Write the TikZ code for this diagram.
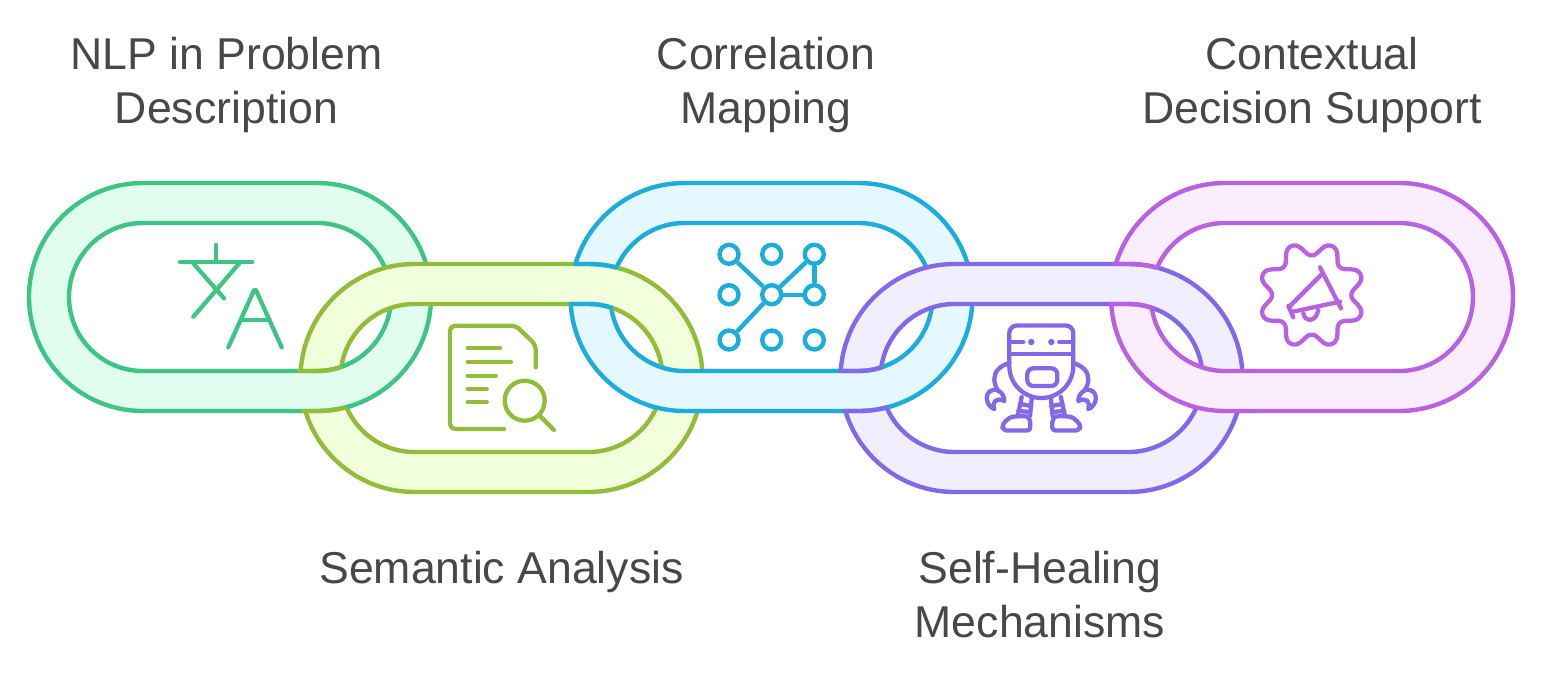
\documentclass[tikz,border=0pt]{standalone}
\usepackage{fontspec}
\setmainfont{Liberation Sans}
\definecolor{chainInk}{HTML}{484848}
\definecolor{chainGreen}{HTML}{3CC583}
\definecolor{chainGreenFill}{HTML}{E1FDF0}
\definecolor{chainOlive}{HTML}{92BD39}
\definecolor{chainOliveFill}{HTML}{F2FFDC}
\definecolor{chainBlue}{HTML}{1CADDC}
\definecolor{chainBlueFill}{HTML}{E5F8FF}
\definecolor{chainViolet}{HTML}{8567E9}
\definecolor{chainVioletFill}{HTML}{F1EFFE}
\definecolor{chainPink}{HTML}{BA61E3}
\definecolor{chainPinkFill}{HTML}{FAEEFE}
\tikzset{
  ringline/.style={line width=4.4pt, even odd rule},
  seamline/.style={line width=4.4pt, line cap=round},
  iconline/.style={line width=4.3pt, line cap=round, line join=round},
  netdot/.style={circle, draw=chainBlue, line width=4.4pt, minimum size=19pt, inner sep=0pt},
  chainlabel/.style={font=\fontsize{44.6}{54}\selectfont, text=chainInk, align=center}
}
% outer and inner outline of one link, centre #1,#2
\newcommand{\linkshape}[2]{
  ({#1-87},{#2-114}) -- ({#1+87},{#2-114}) arc[start angle=-90,end angle=90,radius=114]
  -- ({#1-87},{#2+114}) arc[start angle=90,end angle=270,radius=114] -- cycle
  ({#1-87},{#2-74}) -- ({#1+87},{#2-74}) arc[start angle=-90,end angle=90,radius=74]
  -- ({#1-87},{#2+74}) arc[start angle=90,end angle=270,radius=74] -- cycle
}
\begin{document}
\begin{tikzpicture}[x=1pt,y=1pt,yscale=-1]
  \useasboundingbox (0,0) rectangle (1544,675);

  % upper links first, lower links pass over them
  \foreach \cx/\cy/\col in {
    230/297/chainGreen,
    771.5/297/chainBlue,
    1312/297/chainPink,
    501.5/378/chainOlive,
    1041.5/378/chainViolet%
  }{
    \path[ringline, draw=\col, fill=\col Fill] \linkshape{\cx}{\cy};
  }

  % upper links back on top at the lower crossings
  \foreach \xa/\xb/\cx/\col in {
    288/356/230/chainGreen,
    646/714/771.5/chainBlue,
    830/897/771.5/chainBlue,
    1187/1254/1312/chainPink%
  }{
    \begin{scope}
      \clip (\xa,360) rectangle (\xb,420);
      \path[ringline, draw=\col, fill=\col Fill] \linkshape{\cx}{297};
    \end{scope}
  }

  % seams along the lower edge of an upper link
  \foreach \cx/\col in {230/chainOlive, 771.5/chainViolet}{
    \draw[seamline, \col] ({\cx+69.2},371) -- ({\cx+87},371) arc[start angle=90,end angle=72,radius=74];
    \draw[seamline, \col] ({\cx+73.9},411) -- ({\cx+87},411) arc[start angle=90,end angle=75.8,radius=114];
  }
  % seams along the upper edge of a lower link
  \foreach \cx/\col in {501.5/chainBlue, 1041.5/chainPink}{
    \draw[seamline, \col] ({\cx+69.2},304) -- ({\cx+87},304) arc[start angle=-90,end angle=-72,radius=74];
    \draw[seamline, \col] ({\cx+73.9},264) -- ({\cx+87},264) arc[start angle=-90,end angle=-75.8,radius=114];
  }

  % translate icon
  \begin{scope}[iconline, chainGreen]
    \draw (216.3,245) -- (216.3,262);
    \draw (180,262) -- (252.3,262);
    \draw (193.3,263.3) -- (224,298.3);
    \draw (239.3,263.3) -- (193.3,316.7);
    \draw[rounded corners=3pt] (228.3,347.3) -- (255,288) -- (281.7,347.3);
    \draw (241.7,320) -- (269.3,320);
  \end{scope}

  % document icon
  \begin{scope}[iconline, chainOlive]
    \draw[rounded corners=5pt] (504,429) -- (450,429) -- (450,325.7) -- (516,325.7) -- (535.7,345) -- (535.7,367.3);
    \foreach \yy/\xe in {348.3/500, 362/511, 375.7/495.7, 389/486.7, 402.3/486.7}{
      \draw (467.7,\yy) -- (\xe,\yy);
    }
    \draw (524.7,400.7) circle[radius=20];
    \draw (540.7,416.7) -- (554,430);
  \end{scope}

  % network icon
  \foreach \i/\xx in {1/729, 2/771.7, 3/814.3}{
    \foreach \j/\yy in {1/254.3, 2/294.7, 3/340}{
      \node[netdot] (net\i\j) at (\xx,\yy) {};
    }
  }
  \draw[chainBlue, line width=4.4pt] (net11) -- (net22);
  \draw[chainBlue, line width=4.4pt] (net22) -- (net31);
  \draw[chainBlue, line width=4.4pt] (net31) -- (net32);
  \draw[chainBlue, line width=4.4pt] (net22) -- (net32);
  \draw[chainBlue, line width=4.4pt] (net22) -- (net13);

  % robot icon
  \begin{scope}[iconline, chainViolet]
    \draw (1009.3,366) -- (1009.3,333) arc[start angle=180,end angle=270,radius=7.5] -- (1065.8,325.5)
      arc[start angle=-90,end angle=0,radius=7.5] -- (1073.3,366)
      arc[start angle=0,end angle=180,radius=32];
    \draw (1009.3,354.3) -- (1073.3,354.3);
    \draw[rounded corners=6pt] (1027.3,368.3) rectangle (1057.3,386);
    \foreach \side in {1,-1}{
      \begin{scope}[shift={(1041.3,0)},xscale=\side]
        \draw (-32,342) -- (-18,342);
        \fill (-10,342) circle[radius=3.2];
        \draw (-32,363) .. controls (-42,366) and (-47,372) .. (-47,379) .. controls (-47,384) and (-45,388) .. (-43,391);
        \draw (-37,401) .. controls (-37,392) and (-46,387) .. (-51,391) .. controls (-57,395) and (-55,406) .. (-47,409)
          .. controls (-49,402) and (-46,397) .. (-37,401) -- cycle;
        \draw (-19.6,397) -- (-23.6,416);
        \draw (-9.6,398.5) -- (-11.3,416);
        \draw (-21,404) -- (-10,406);
        \draw (-23,411) -- (-11,412);
        \draw[rounded corners=3pt] (-38,430.5) -- (-11,430.5) -- (-11,420) .. controls (-14,416) and (-20,416) .. (-26,416.5)
          .. controls (-32,417) and (-40,424) .. (-38,430.5) -- cycle;
      \end{scope}
    }
  \end{scope}

  % megaphone icon
  \begin{scope}[iconline, chainPink]
    \draw plot[domain=0:358,samples=180] ({1311.7+(46.3-7*(cos(8*\x)-0.05*cos(24*\x)))*cos(\x)},{295+(46.3-7*(cos(8*\x)-0.05*cos(24*\x)))*sin(\x)}) -- cycle;
    \draw (1320,267.3) -- (1341,308.3);
    \draw (1321,275) -- (1290,306);
    \draw (1340,301.7) -- (1292.7,311.7);
    \draw (1288.3,306) -- (1293.3,317.3);
    \draw (1303.3,313) .. controls (1304,322) and (1316,323) .. (1318.3,310);
  \end{scope}

  \node[chainlabel] (nlplabel) at (226.5,85) {NLP in Problem\\Description};
  \node[chainlabel] (mappinglabel) at (766,85) {Correlation\\Mapping};
  \node[chainlabel] (supportlabel) at (1312,85) {Contextual\\Decision Support};
  \node[chainlabel] (semanticlabel) at (501.5,572) {Semantic Analysis};
  \node[chainlabel] (healinglabel) at (1040,595) {Self-Healing\\Mechanisms};
\end{tikzpicture}
\end{document}
